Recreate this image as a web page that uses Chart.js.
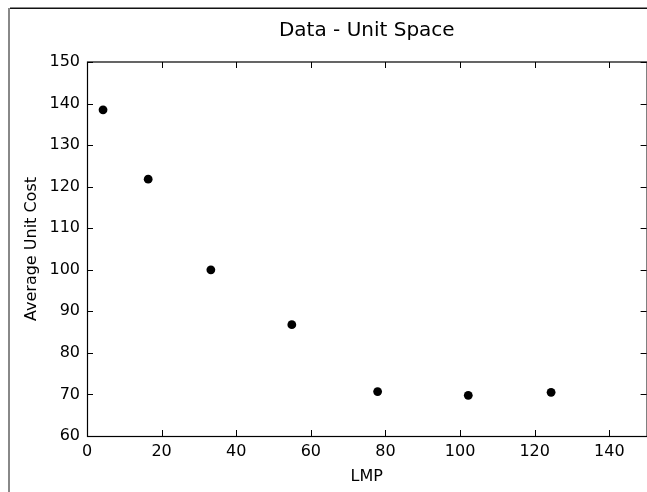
<!DOCTYPE html>
<html lang="en">
<head>
    <meta charset="UTF-8">
    <title>Data - Unit Space</title>
    <style>
        html, body { margin: 0; padding: 0; background: #fff; overflow: hidden; }
        #chart { display: block; }
    </style>
</head>
<body>
    <!-- a little wider than the window: right spine sits just off-screen like the reference crop -->
    <canvas id="chart" width="651" height="492"></canvas>

    <script src="https://cdn.jsdelivr.net/npm/chart.js"></script>
    <script>
        // values
        const lmp = [4.3, 16.4, 33.2, 54.9, 77.9, 102.2, 124.4];
        const avgUnitCost = [138.5, 121.8, 100.0, 86.8, 70.7, 69.8, 70.5];
        const xTicks = [0, 20, 40, 60, 80, 100, 120, 140];
        const yTicks = [60, 70, 80, 90, 100, 110, 120, 130, 140, 150];

        const font = "'DejaVu Sans', sans-serif";
        const tickLen = 6;

        // outer figure edge (grey left, black top) like the cropped screenshot
        const frame = {
            id: 'frame',
            beforeDraw(chart) {
                const c = chart.ctx;
                c.save();
                c.fillStyle = '#fff';
                c.fillRect(0, 0, chart.width, chart.height);
                c.fillStyle = '#888';
                c.fillRect(8, 8, 2, chart.height - 8);
                c.fillStyle = '#111';
                c.fillRect(10, 7.5, chart.width - 10, 1.5);
                c.restore();
            }
        };

        // box spines + inward ticks on all four sides
        const spines = {
            id: 'spines',
            afterDatasetsDraw(chart) {
                const c = chart.ctx;
                const a = chart.chartArea;
                const xs = chart.scales.x, ys = chart.scales.y;
                c.save();
                c.strokeStyle = '#000';
                c.lineWidth = 1.2;
                c.strokeRect(a.left + 0.5, a.top, a.right - a.left, a.bottom - a.top + 0.5);
                c.lineWidth = 1;
                c.beginPath();
                xs.ticks.forEach(t => {
                    const p = Math.round(xs.getPixelForValue(t.value)) + 0.5;
                    c.moveTo(p, a.bottom); c.lineTo(p, a.bottom - tickLen);
                    c.moveTo(p, a.top); c.lineTo(p, a.top + tickLen);
                });
                ys.ticks.forEach(t => {
                    const p = Math.round(ys.getPixelForValue(t.value)) + 0.5;
                    c.moveTo(a.left, p); c.lineTo(a.left + tickLen, p);
                    c.moveTo(a.right, p); c.lineTo(a.right - tickLen, p);
                });
                c.stroke();
                c.restore();
            }
        };

        new Chart(document.getElementById('chart'), {
            type: 'scatter',
            data: {
                datasets: [{
                    label: 'Average Unit Cost',
                    data: lmp.map((x, i) => ({ x: x, y: avgUnitCost[i] })),
                    backgroundColor: '#000',
                    borderWidth: 0,
                    pointRadius: 4.4,
                    pointHoverRadius: 4.4
                }]
            },
            options: {
                responsive: false,
                animation: false,
                events: [],
                layout: { padding: 0 },
                plugins: {
                    legend: { display: false },
                    tooltip: { enabled: false },
                    title: {
                        display: true,
                        text: 'Data - Unit Space',
                        fullSize: false,
                        color: '#000',
                        font: { family: font, size: 20, weight: 'normal' },
                        padding: { top: 19, bottom: 19 }
                    }
                },
                scales: {
                    x: {
                        type: 'linear',
                        min: 0,
                        max: 150,
                        afterBuildTicks: s => { s.ticks = xTicks.map(v => ({ value: v })); },
                        afterFit: s => { s.height = 56; },
                        grid: { display: false, drawTicks: false },
                        border: { display: false },
                        ticks: {
                            padding: 6,
                            color: '#000',
                            maxRotation: 0,
                            font: { family: font, size: 16 }
                        },
                        title: {
                            display: true,
                            text: 'LMP',
                            color: '#000',
                            font: { family: font, size: 16 },
                            padding: { top: 0, bottom: 6 }
                        }
                    },
                    y: {
                        type: 'linear',
                        min: 60,
                        max: 150,
                        afterBuildTicks: s => { s.ticks = yTicks.map(v => ({ value: v })); },
                        afterFit: s => { s.width = 87; },
                        grid: { display: false, drawTicks: false },
                        border: { display: false },
                        ticks: {
                            padding: 7,
                            color: '#000',
                            font: { family: font, size: 16 }
                        },
                        title: {
                            display: true,
                            text: 'Average Unit Cost',
                            color: '#000',
                            font: { family: font, size: 16 },
                            padding: { top: 22, bottom: 0 }
                        }
                    }
                }
            },
            plugins: [frame, spines]
        });
    </script>
</body>
</html>
